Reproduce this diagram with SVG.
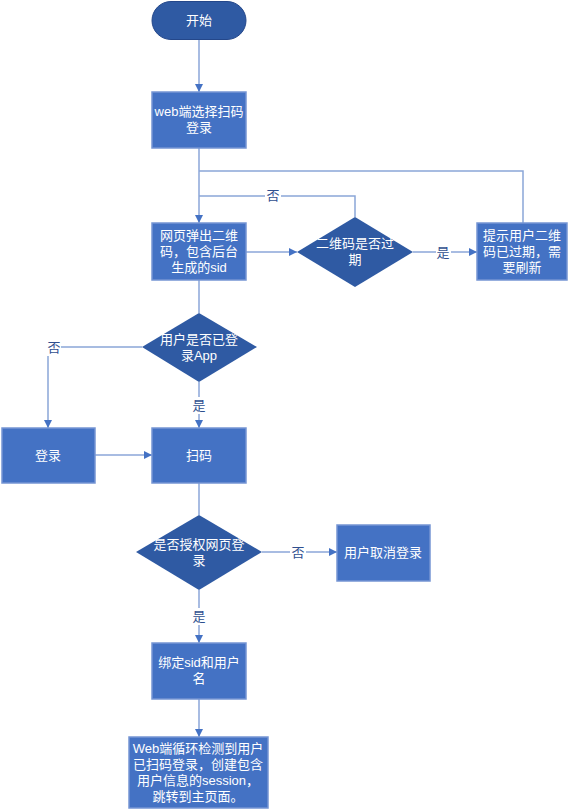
<svg xmlns="http://www.w3.org/2000/svg" width="571" height="810" viewBox="0 0 571 810">
<style>
.box{fill:#4472c4;stroke:#7595d3;stroke-width:1.5}
.dia{fill:#2f5aa3;stroke:none}
.term{fill:#2f5aa3;stroke:#24478a;stroke-width:1}
.t{font-family:"Liberation Sans","Noto Sans CJK SC",sans-serif;font-size:13px;fill:#ffffff;text-anchor:middle}
.lbl{font-family:"Liberation Sans","Noto Sans CJK SC",sans-serif;font-size:13px;fill:#2f4f8f;text-anchor:middle}
.ln{fill:none;stroke:#8ba6d8;stroke-width:1.5}
.bg{fill:#ffffff}
</style>
<defs>
<marker id="ah" viewBox="0 0 10 10" refX="10" refY="5" markerWidth="8" markerHeight="8" markerUnits="userSpaceOnUse" orient="auto">
<path d="M0,0 L10,5 L0,10 z" fill="#4472c4"/>
</marker>
</defs>
<rect width="571" height="810" fill="#ffffff"/>
<g id="connectors">
<path class="ln" d="M199,40 V92" marker-end="url(#ah)"/>
<path class="ln" d="M199,148 V223" marker-end="url(#ah)"/>
<path class="ln" d="M523,223 V171 H199"/>
<path class="ln" d="M355,217 V196 H199"/>
<path class="ln" d="M246,252 H297" marker-end="url(#ah)"/>
<path class="ln" d="M413,252 H477" marker-end="url(#ah)"/>
<path class="ln" d="M199,280 V313"/>
<path class="ln" d="M142,347 H48 V428" marker-end="url(#ah)"/>
<path class="ln" d="M199,382 V428" marker-end="url(#ah)"/>
<path class="ln" d="M95,455 H152" marker-end="url(#ah)"/>
<path class="ln" d="M199,483 V515"/>
<path class="ln" d="M262,552 H337" marker-end="url(#ah)"/>
<path class="ln" d="M199,590 V643" marker-end="url(#ah)"/>
<path class="ln" d="M199,699 V737" marker-end="url(#ah)"/>
<rect class="bg" x="265" y="187" width="16" height="17"/>
<text class="lbl" x="273" y="200">否</text>
<rect class="bg" x="436" y="244" width="15" height="17"/>
<text class="lbl" x="443" y="257">是</text>
<rect class="bg" x="46" y="339" width="15" height="17"/>
<text class="lbl" x="54" y="352">否</text>
<rect class="bg" x="191" y="397" width="16" height="17"/>
<text class="lbl" x="199" y="410">是</text>
<rect class="bg" x="290" y="544" width="16" height="17"/>
<text class="lbl" x="298" y="557">否</text>
<rect class="bg" x="191" y="608" width="16" height="17"/>
<text class="lbl" x="199" y="621">是</text>
</g>
<g id="start">
<rect class="term" x="152" y="1.5" width="94" height="38" rx="19" ry="19"/>
<text class="t" x="199" y="25">开始</text>
</g>
<g id="web-select">
<rect class="box" x="152" y="92" width="94" height="56"/>
<text class="t" x="199" y="116"><tspan x="199">web端选择扫码</tspan><tspan x="199" dy="16">登录</tspan></text>
</g>
<g id="popup-qr">
<rect class="box" x="152" y="223" width="94" height="57"/>
<text class="t" x="199" y="240"><tspan x="199">网页弹出二维</tspan><tspan x="199" dy="16">码，包含后台</tspan><tspan x="199" dy="16">生成的sid</tspan></text>
</g>
<g id="qr-expired">
<polygon class="dia" points="355,217 413,252 355,287 297,252"/>
<text class="t" x="355" y="248"><tspan x="355">二维码是否过</tspan><tspan x="355" dy="16">期</tspan></text>
</g>
<g id="notify-refresh">
<rect class="box" x="477" y="223" width="90" height="57"/>
<text class="t" x="522" y="240"><tspan x="522">提示用户二维</tspan><tspan x="522" dy="16">码已过期，需</tspan><tspan x="522" dy="16">要刷新</tspan></text>
</g>
<g id="logged-in">
<polygon class="dia" points="199,313 257,347 199,382 142,347"/>
<text class="t" x="199" y="344"><tspan x="199">用户是否已登</tspan><tspan x="199" dy="16">录App</tspan></text>
</g>
<g id="login">
<rect class="box" x="2" y="428" width="93" height="55"/>
<text class="t" x="48" y="460">登录</text>
</g>
<g id="scan">
<rect class="box" x="152" y="428" width="94" height="55"/>
<text class="t" x="199" y="460">扫码</text>
</g>
<g id="authorize">
<polygon class="dia" points="199,515 262,552 199,590 136,552"/>
<text class="t" x="199" y="549"><tspan x="199">是否授权网页登</tspan><tspan x="199" dy="16">录</tspan></text>
</g>
<g id="cancel">
<rect class="box" x="337" y="525" width="93" height="56"/>
<text class="t" x="383" y="557">用户取消登录</text>
</g>
<g id="bind">
<rect class="box" x="152" y="643" width="94" height="56"/>
<text class="t" x="199" y="667"><tspan x="199">绑定sid和用户</tspan><tspan x="199" dy="16">名</tspan></text>
</g>
<g id="final">
<rect class="box" x="129" y="737" width="139" height="71"/>
<text class="t" x="198" y="753"><tspan x="198">Web端循环检测到用户</tspan><tspan x="198" dy="16">已扫码登录，创建包含</tspan><tspan x="198" dy="16">用户信息的session，</tspan><tspan x="198" dy="16">跳转到主页面。</tspan></text>
</g>
</svg>
